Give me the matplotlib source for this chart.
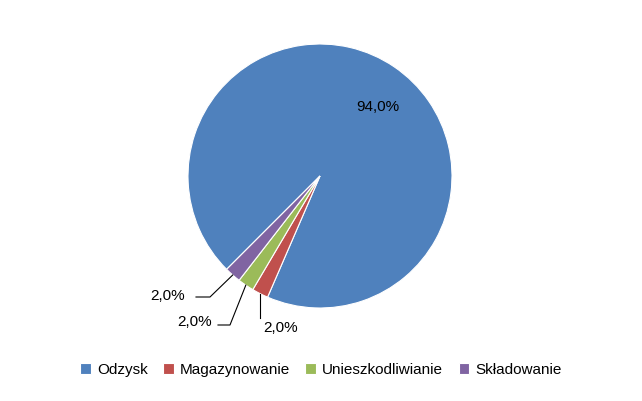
import matplotlib
matplotlib.use("Agg")
import matplotlib.pyplot as plt
import numpy as np

categories = ["Odzysk", "Magazynowanie", "Unieszkodliwianie", "Składowanie"]
values = [94.0, 2.0, 2.0, 2.0]
labels = ["94,0%", "2,0%", "2,0%", "2,0%"]
colors = ["#4F81BD", "#C0504D", "#9BBB59", "#8064A2"]

plt.rcParams['font.family'] = ['Liberation Sans', 'DejaVu Sans']
fig = plt.figure(figsize=(6.42, 4.01), dpi=100)
cx, cy, r = 320, 176, 132
ax = fig.add_axes([(cx - r) / 642, (401 - cy - r) / 401, 2 * r / 642, 2 * r / 401])
wedges, _ = ax.pie(values, colors=colors, startangle=-135, counterclock=False,
                   wedgeprops=dict(linewidth=0.8, edgecolor="white"), radius=1)
ax.set_xlim(-1, 1); ax.set_ylim(-1, 1); ax.set_aspect('equal')
ax.axis('off')

def d(px, py):
    return ((px - cx) / r, (cy - py) / r)

fs = 11
ax.text(*d(378, 107), labels[0], ha='center', va='center', fontsize=fs)

def edge(w):
    a = np.deg2rad((w.theta1 + w.theta2) / 2)
    return (np.cos(a), np.sin(a))

# red
e = edge(wedges[1])
ax.plot([e[0], e[0], e[0]], [e[1], d(0, 318)[1], d(0, 318)[1]], color='black', lw=0.8, clip_on=False)
ax.text(*d(281, 328), labels[1], ha='center', va='center', fontsize=fs)
# green
e = edge(wedges[2])
p1 = d(230, 325); p0 = d(218, 325)
ax.plot([p0[0], p1[0], e[0]], [p0[1], p1[1], e[1]], color='black', lw=0.8, clip_on=False)
ax.text(*d(195, 322), labels[2], ha='center', va='center', fontsize=fs)
# purple
e = edge(wedges[3])
p0 = d(196, 297); p1 = d(210, 297)
ax.plot([p0[0], p1[0], e[0]], [p0[1], p1[1], e[1]], color='black', lw=0.8, clip_on=False)
ax.text(*d(168, 296), labels[3], ha='center', va='center', fontsize=fs)

fig.legend(wedges, categories, ncol=4, loc='center', bbox_to_anchor=(0.5, 1 - 370 / 401),
           frameon=False, handlelength=0.7, handleheight=0.7, handletextpad=0.4,
           columnspacing=1.0, fontsize=fs)
fig.savefig("out.png", dpi=100)
